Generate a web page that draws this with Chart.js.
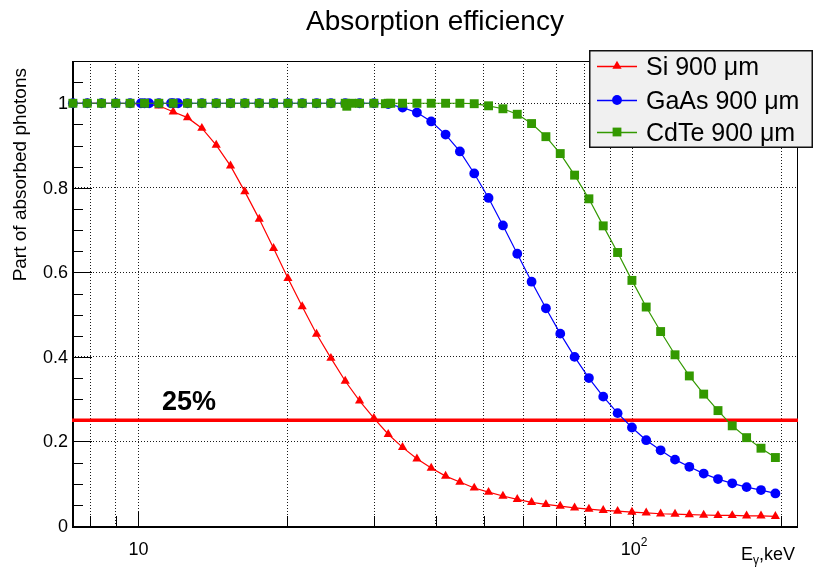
<!DOCTYPE html>
<html>
<head>
<meta charset="utf-8">
<title>Absorption efficiency</title>
<script src="https://cdn.jsdelivr.net/npm/chart.js@4.4.1/dist/chart.umd.min.js"></script>
<style>
  html, body { margin: 0; padding: 0; background: #fff; }
  #wrap { width: 814px; height: 568px; }
</style>
</head>
<body>
<div id="wrap"><canvas id="chart" width="814" height="568"></canvas></div>
<script>
// photon energies, keV (common grid for all three detectors)
const energyKeV = [
  7.37, 7.88, 8.42, 9.00, 9.62, 10.29, 11.00, 11.76, 12.57, 13.44,
  14.37, 15.36, 16.42, 17.56, 18.77, 20.07, 21.45, 22.93, 24.52, 26.21,
  28.02, 29.95, 32.02, 34.23, 36.60, 39.12, 41.83, 44.71, 47.80, 51.10,
  54.64, 58.41, 62.44, 66.75, 71.36, 76.29, 81.55, 87.18, 93.22, 99.65,
  106.5, 113.9, 121.8, 130.2, 139.2, 148.8, 159.0, 170.0, 181.8, 194.4
];

const siEff = [
  1.000, 1.000, 1.000, 1.000, 0.999, 0.998, 0.994, 0.980, 0.966, 0.941,
  0.901, 0.852, 0.791, 0.726, 0.657, 0.586, 0.519, 0.454, 0.397, 0.343,
  0.296, 0.255, 0.217, 0.186, 0.159, 0.137, 0.118, 0.104, 0.090, 0.080,
  0.071, 0.063, 0.056, 0.051, 0.047, 0.043, 0.040, 0.037, 0.035, 0.033,
  0.031, 0.029, 0.028, 0.027, 0.026, 0.025, 0.025, 0.024, 0.024, 0.023
];

const gaasEff = [
  1.000, 1.000, 1.000, 1.000, 1.000, 1.000, 1.000, 1.000, 1.000, 1.000,
  1.000, 1.000, 1.000, 1.000, 1.000, 1.000, 1.000, 1.000, 1.000, 1.000,
  1.000, 1.000, 0.998, 0.990, 0.978, 0.957, 0.926, 0.886, 0.834, 0.776,
  0.711, 0.644, 0.578, 0.515, 0.455, 0.400, 0.350, 0.306, 0.267, 0.233,
  0.203, 0.179, 0.157, 0.140, 0.124, 0.111, 0.101, 0.092, 0.085, 0.077
];

const cdteEff = [
  1.000, 1.000, 1.000, 1.000, 1.000, 1.000, 1.000, 1.000, 1.000, 1.000,
  1.000, 1.000, 1.000, 1.000, 1.000, 1.000, 1.000, 1.000, 1.000, 1.000,
  1.000, 1.000, 1.000, 1.000, 1.000, 1.000, 1.000, 1.000, 0.999, 0.994,
  0.987, 0.974, 0.952, 0.921, 0.881, 0.830, 0.774, 0.710, 0.647, 0.581,
  0.518, 0.460, 0.405, 0.355, 0.312, 0.273, 0.237, 0.209, 0.184, 0.162
];

// extra points around the K-edges (Ga, As / Cd, Te)
const gaasEdgeKeV = [10.12, 10.51, 11.64, 12.03];
const gaasEdgeEff = [1.000, 1.000, 1.000, 1.000];
const cdteEdgeKeV = [26.40, 27.00, 31.60, 32.40];
const cdteEdgeEff = [0.993, 1.000, 0.999, 1.000];

const thresholdLevel = 0.25;
const xRange = [7.34, 216];
const yRange = [0, 1.1];
const xGridKeV = [8, 9, 10, 20, 30, 40, 50, 60, 70, 80, 90, 100, 200];
const yGrid = [0.2, 0.4, 0.6, 0.8, 1.0];
const yTickLabels = [[0, '0'], [0.2, '0.2'], [0.4, '0.4'], [0.6, '0.6'], [0.8, '0.8'], [1.0, '1']];
const yMinorStep = 0.05;

const FONT = '"Liberation Sans", Arial, Helvetica, sans-serif';
const RED = '#ff0000', BLUE = '#0000ff', GREEN = '#339900';

function toPoints(xs, ys) {
  return xs.map((x, i) => ({ x: x, y: ys[i] }));
}
function merged(a, b) {
  return a.concat(b).sort((p, q) => p.x - q.x);
}

function drawMarker(ctx, style, x, y, color) {
  ctx.fillStyle = color;
  ctx.beginPath();
  if (style === 'triangle') {
    ctx.moveTo(x, y - 5.3);
    ctx.lineTo(x + 4.6, y + 2.7);
    ctx.lineTo(x - 4.6, y + 2.7);
    ctx.closePath();
  } else if (style === 'circle') {
    ctx.arc(x, y, 4.9, 0, Math.PI * 2);
  } else {
    ctx.rect(x - 4.4, y - 4.4, 8.8, 8.8);
  }
  ctx.fill();
}

const rootStyle = {
  id: 'rootStyle',
  beforeDatasetsDraw(chart) {
    const { ctx, chartArea: a, scales } = chart;
    const xs = scales.x, ys = scales.y;
    ctx.save();
    ctx.strokeStyle = '#000';
    ctx.fillStyle = '#000';
    ctx.lineWidth = 1;
    ctx.strokeRect(a.left + 0.5, a.top + 0.5, a.right - a.left - 1, a.bottom - a.top);
    ctx.fillRect(a.left, a.top, 2, a.bottom - a.top + 2);
    ctx.fillRect(a.left, a.bottom, a.right - a.left, 2);

    // ticks pointing into the frame
    ctx.beginPath();
    for (let k = 0; k * yMinorStep <= yRange[1] + 1e-9; k++) {
      const py = Math.round(ys.getPixelForValue(k * yMinorStep)) + 0.5;
      const len = (k % 4 === 0) ? 20 : 11;
      ctx.moveTo(a.left, py);
      ctx.lineTo(a.left + len, py);
    }
    xGridKeV.forEach(v => {
      const px = Math.round(xs.getPixelForValue(v)) + 0.5;
      const len = (v === 10 || v === 100) ? 14 : 10;
      ctx.moveTo(px, a.bottom);
      ctx.lineTo(px, a.bottom - len);
    });
    ctx.stroke();
    ctx.restore();
  },
  afterDraw(chart) {
    const { ctx, chartArea: a, scales } = chart;
    const xs = scales.x, ys = scales.y;
    ctx.save();
    ctx.fillStyle = '#000';

    // y tick labels
    ctx.font = '18px ' + FONT;
    ctx.textAlign = 'right';
    ctx.textBaseline = 'middle';
    yTickLabels.forEach(([v, t]) => ctx.fillText(t, a.left - 4, ys.getPixelForValue(v) + 1));

    // x tick labels
    ctx.textAlign = 'center';
    ctx.textBaseline = 'alphabetic';
    ctx.fillText('10', xs.getPixelForValue(10), 555);
    const p100 = xs.getPixelForValue(100);
    ctx.fillText('10', p100 - 2, 555);
    ctx.font = '12px ' + FONT;
    ctx.textAlign = 'left';
    ctx.fillText('2', p100 + 8, 546);

    // x axis title E_γ,keV
    ctx.font = '18px ' + FONT;
    const wE = ctx.measureText('E').width;
    const wK = ctx.measureText(',keV').width;
    ctx.font = '12px ' + FONT;
    const wG = ctx.measureText('γ').width;
    const xt = a.right - 3 - wE - wG - wK;
    ctx.font = '18px ' + FONT;
    ctx.fillText('E', xt, 560);
    ctx.font = '12px ' + FONT;
    ctx.fillText('γ', xt + wE, 564);
    ctx.font = '18px ' + FONT;
    ctx.fillText(',keV', xt + wE + wG, 560);

    // y axis title
    ctx.save();
    ctx.translate(26, a.top + 7);
    ctx.rotate(-Math.PI / 2);
    ctx.font = '19px ' + FONT;
    ctx.textAlign = 'right';
    ctx.fillText('Part of absorbed photons', 0, 0);
    ctx.restore();

    // title
    ctx.font = '28px ' + FONT;
    ctx.textAlign = 'center';
    ctx.fillText('Absorption efficiency', (a.left + a.right) / 2, 30);

    // threshold label
    ctx.font = 'bold 27px ' + FONT;
    ctx.textAlign = 'left';
    ctx.fillText('25%', 162, 410);

    // legend
    const box = { x: 589, y: 50, w: 224, h: 98 };
    ctx.fillStyle = '#f0f0f0';
    ctx.fillRect(box.x, box.y, box.w, box.h);
    ctx.strokeStyle = '#111';
    ctx.lineWidth = 1.5;
    ctx.strokeRect(box.x + 0.75, box.y + 0.75, box.w - 1.5, box.h - 1.5);
    const rows = [
      ['Si 900 μm', RED, 'triangle', 66],
      ['GaAs 900 μm', BLUE, 'circle', 100],
      ['CdTe 900 μm', GREEN, 'rect', 132]
    ];
    ctx.font = '25px ' + FONT;
    ctx.textAlign = 'left';
    rows.forEach(([label, color, style, ry]) => {
      ctx.strokeStyle = color;
      ctx.lineWidth = 1.3;
      ctx.beginPath();
      ctx.moveTo(597, ry + 0.5);
      ctx.lineTo(637, ry + 0.5);
      ctx.stroke();
      drawMarker(ctx, style, 617, ry, color);
      ctx.fillStyle = '#000';
      ctx.fillText(label, 646, ry + 9);
    });
    ctx.restore();
  }
};

const gridCommon = {
  color: '#1a1a1a',
  lineWidth: 1,
  drawTicks: false
};

new Chart(document.getElementById('chart'), {
  type: 'line',
  data: {
    datasets: [
      {
        label: '25%',
        data: [{ x: xRange[0], y: thresholdLevel }, { x: xRange[1], y: thresholdLevel }],
        borderColor: RED,
        borderWidth: 3.5,
        pointRadius: 0,
        order: 4
      },
      {
        label: 'Si 900 μm',
        data: toPoints(energyKeV, siEff),
        borderColor: RED,
        backgroundColor: RED,
        borderWidth: 1.2,
        pointStyle: 'triangle',
        pointRadius: 5.3,
        pointBorderWidth: 0,
        clip: false,
        order: 3
      },
      {
        label: 'GaAs 900 μm',
        data: merged(toPoints(energyKeV, gaasEff), toPoints(gaasEdgeKeV, gaasEdgeEff)),
        borderColor: BLUE,
        backgroundColor: BLUE,
        borderWidth: 1.2,
        pointStyle: 'circle',
        pointRadius: 4.9,
        pointBorderWidth: 0,
        clip: false,
        order: 2
      },
      {
        label: 'CdTe 900 μm',
        data: merged(toPoints(energyKeV, cdteEff), toPoints(cdteEdgeKeV, cdteEdgeEff)),
        borderColor: GREEN,
        backgroundColor: GREEN,
        borderWidth: 1.2,
        pointStyle: 'rect',
        pointRadius: 6.3,
        pointBorderWidth: 0,
        clip: false,
        order: 1
      }
    ]
  },
  options: {
    responsive: false,
    animation: false,
    devicePixelRatio: 1,
    layout: { padding: { top: 61, right: 16, left: 0, bottom: 0 } },
    plugins: {
      legend: { display: false },
      tooltip: { enabled: false },
      title: { display: false }
    },
    elements: { line: { tension: 0 } },
    scales: {
      x: {
        type: 'logarithmic',
        min: xRange[0],
        max: xRange[1],
        grid: gridCommon,
        border: { display: false, dash: [1, 2] },
        ticks: { display: false },
        afterBuildTicks: s => { s.ticks = xGridKeV.map(v => ({ value: v })); },
        afterFit: s => { s.height = 42; }
      },
      y: {
        type: 'linear',
        min: yRange[0],
        max: yRange[1],
        grid: gridCommon,
        border: { display: false, dash: [1, 2] },
        ticks: { display: false },
        afterBuildTicks: s => { s.ticks = yGrid.map(v => ({ value: v })); },
        afterFit: s => { s.width = 72; }
      }
    }
  },
  plugins: [rootStyle]
});
</script>
</body>
</html>
